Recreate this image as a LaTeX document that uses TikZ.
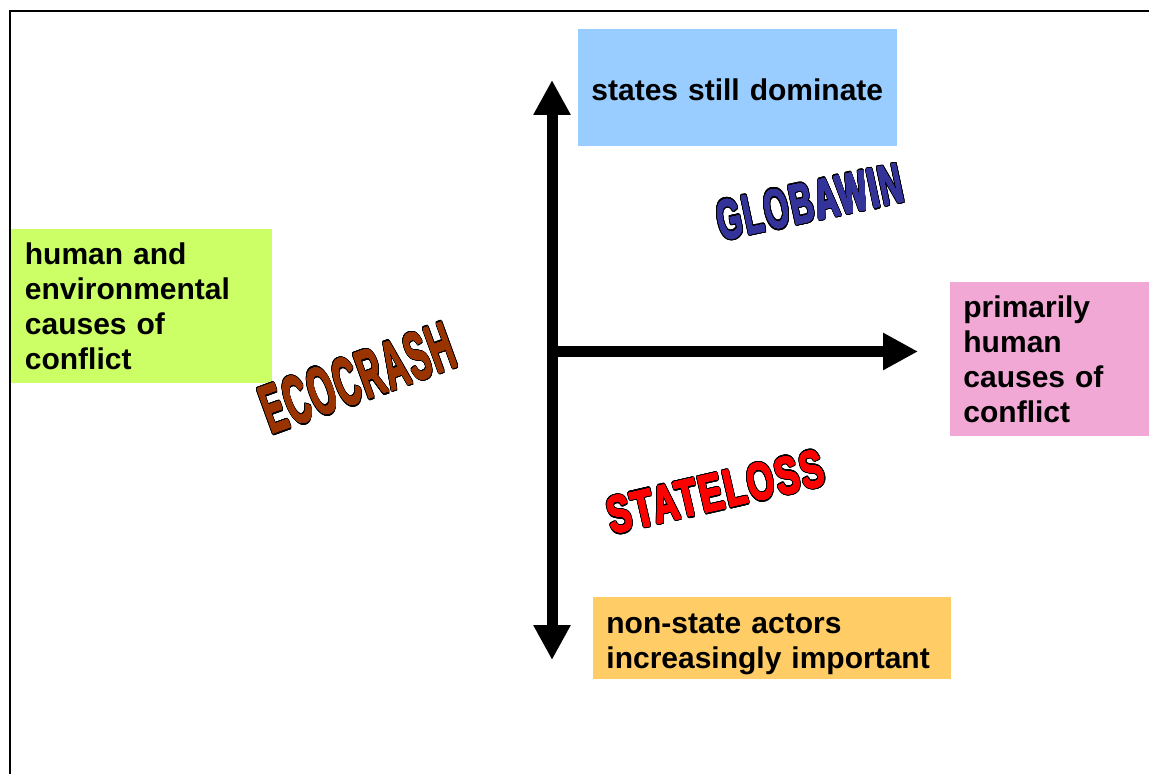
\documentclass[tikz,border=0pt]{standalone}
\usepackage{fontspec}
\setmainfont{Liberation Sans}
\usepackage[copies]{contour}
\usetikzlibrary{arrows.meta}
\definecolor{boxblue}{HTML}{99CCFF}
\definecolor{boxgreen}{HTML}{CCFF66}
\definecolor{boxpink}{HTML}{F2A8D4}
\definecolor{boxorange}{HTML}{FFCC66}
\definecolor{artblue}{HTML}{333399}
\definecolor{artbrown}{HTML}{993300}
\definecolor{artred}{HTML}{FF0000}
\contournumber{32}
\newcommand\wordartfill[2]{%
  \addfontfeature{LetterSpace=6}%
  \rlap{\contourlength{1.0pt}\contour{black}{\textcolor{black}{#2}}}%
  {\contourlength{0.25pt}\contour{#1}{\textcolor{#1}{#2}}}}
\tikzset{
  txtbox/.style={anchor=north west, inner xsep=6.5pt, inner ysep=0pt, align=left,
    font=\fontsize{15pt}{17.5pt}\selectfont\bfseries, text=black},
  axis/.style={line width=5.5pt, -{Triangle[length=17.5pt,width=17.5pt]}},
  axis2/.style={line width=5.5pt, {Triangle[length=17.5pt,width=17.5pt]}-{Triangle[length=17.5pt,width=17.5pt]}},
  wordart/.style={inner sep=0pt, transform shape}
}
\begin{document}
\begin{tikzpicture}[x=0.5pt,y=-0.5pt]
\useasboundingbox (0,0) rectangle (1149,774);
\fill[white] (0,0) rectangle (1149,774);
% frame
\draw[line width=1pt] (10,800) -- (10,11) -- (1170,11);
% boxes
\node[txtbox, fill=boxblue, minimum width=159.5pt, minimum height=58.5pt, text width=146.5pt] (dom) at (578,29) {\rule{0pt}{13pt}states still dominate};
\node[txtbox, fill=boxgreen, minimum width=130.5pt, minimum height=77pt, text width=117pt] (hum) at (11,229) {human and\\environmental\\causes of\\conflict};
\node[txtbox, fill=boxpink, minimum width=105pt, minimum height=77pt, text width=92pt] (prim) at (950,282) {primarily\\human\\causes of\\conflict};
\node[txtbox, fill=boxorange, minimum width=179pt, minimum height=41pt, text width=166pt] (non) at (593,597) {\rule{0pt}{15.5pt}non-state actors\\increasingly important};
% axes
\coordinate (top) at (552,80);
\coordinate (bot) at (552,660);
\coordinate (mid) at (552,351.5);
\coordinate (right) at (918,351.5);
\draw[axis2] (bot) -- (top);
\draw[axis] (mid) -- (right);
% word art
\node[wordart, rotate=12, xscale=0.57, font=\fontsize{28pt}{28pt}\selectfont\bfseries] (glob) at (810,203) {\wordartfill{artblue}{GLOBAWIN}};
\node[wordart, rotate=20, xscale=0.48, font=\fontsize{34pt}{34pt}\selectfont\bfseries] (eco) at (358,379) {\wordartfill{artbrown}{ECOCRASH}};
\node[wordart, rotate=13, xscale=0.67, font=\fontsize{26pt}{26pt}\selectfont\bfseries] (stl) at (716,493) {\wordartfill{artred}{STATELOSS}};
\end{tikzpicture}
\end{document}
